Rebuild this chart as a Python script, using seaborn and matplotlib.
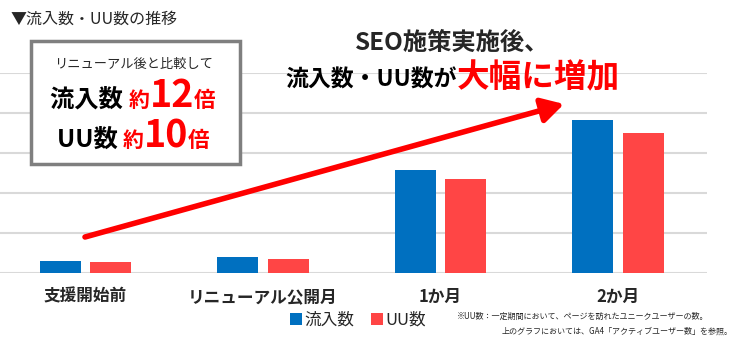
import matplotlib
matplotlib.use("Agg")
import matplotlib.pyplot as plt
import seaborn as sns
import pandas as pd
from matplotlib.patches import Rectangle, FancyArrowPatch

# ---- data ----
categories = ["支援開始前", "リニューアル公開月", "1か月", "2か月"]
inflow = [300, 380, 2570, 3830]      # 流入数
uu = [265, 345, 2350, 3500]          # UU数
series_names = ["流入数", "UU数"]
y_ticks = [0, 1000, 2000, 3000, 4000, 5000]

BLUE = "#0070C0"
RED = "#FF4545"

sns.set_style("white")
plt.rcParams["font.family"] = ["Noto Sans CJK JP", "DejaVu Sans"]

df = pd.DataFrame({
    "期間": categories * 2,
    "値": inflow + uu,
    "指標": [series_names[0]] * len(categories) + [series_names[1]] * len(categories),
})

W, H = 739, 339
fig = plt.figure(figsize=(W / 100, H / 100), dpi=100)
ax = fig.add_axes([0, (H - 272.5) / H, 707 / W, (272.5 - 73.3) / H])

sns.barplot(data=df, x="期間", y="値", hue="指標", palette=[BLUE, RED],
            width=0.568, gap=0.187, saturation=1, linewidth=0, ax=ax)

ax.set_xlim(-0.48, 3.5)
ax.set_ylim(0, 5000)
ax.set_yticks(y_ticks)
ax.set_yticklabels([])
ax.yaxis.grid(True, color="#D9D9D9", lw=1.5)
ax.set_axisbelow(True)
for s in ax.spines.values():
    s.set_visible(False)
ax.axhline(0, color="#D9D9D9", lw=2, zorder=0.5)
ax.set_xlabel("")
ax.set_ylabel("")
ax.tick_params(axis="x", length=0, pad=11)
ax.tick_params(axis="y", length=0)
for lab in ax.get_xticklabels():
    lab.set_fontweight("bold")
    lab.set_fontsize(12)

handles, labels = ax.get_legend_handles_labels()
ax.legend_.remove()
fig.legend(handles, labels, loc="center", bbox_to_anchor=(358 / W, 1 - 320 / H),
           ncol=2, frameon=False, fontsize=12, handlelength=0.7, handleheight=0.7,
           handletextpad=0.15, columnspacing=1.0)

fig.canvas.draw()
renderer = fig.canvas.get_renderer()


def fx(px):
    return px / W


def fy(py):
    return 1 - py / H


def segments(parts, xc, y_base, z=4):
    """parts: list of (text, size, color, weight); centered at xc pixel, baseline y_base pixel"""
    widths = []
    tmp = []
    for t, sz, c, wgt in parts:
        tt = fig.text(0, 0, t, fontsize=sz, color=c, fontweight=wgt, zorder=z)
        bb = tt.get_window_extent(renderer)
        widths.append(bb.width)
        tmp.append(tt)
    total = sum(widths)
    x = xc - total / 2
    for tt, w in zip(tmp, widths):
        tt.set_position((fx(x), fy(y_base)))
        tt.set_va("baseline")
        tt.set_ha("left")
        x += w


# title top-left
fig.text(fx(11), fy(24), "▼流入数・UU数の推移", fontsize=11.5, va="baseline", ha="left")

# box
box = Rectangle((fx(31), fy(164)), fx(240) - fx(31), fy(41) - fy(164),
                transform=fig.transFigure, facecolor="white", edgecolor="#7F7F7F",
                lw=2.5, zorder=3)
fig.add_artist(box)
fig.text(fx(134), fy(68), "リニューアル後と比較して", fontsize=9.5, ha="center",
         va="baseline", zorder=4)
segments([("流入数 ", 17.5, "black", "bold"), ("約", 15, "#FF0000", "bold"),
          ("12", 27, "#FF0000", "bold"), ("倍", 15.5, "#FF0000", "bold")], 133, 107)
segments([("UU数 ", 17.5, "black", "bold"), ("約", 15, "#FF0000", "bold"),
          ("10", 27, "#FF0000", "bold"), ("倍", 15.5, "#FF0000", "bold")], 133, 147)

# heading
fig.text(fx(452), fy(50), "SEO施策実施後、", fontsize=17.5, fontweight="bold",
         ha="center", va="baseline")
segments([("流入数・UU数が", 16.5, "black", "bold"), ("大幅に増加", 23.5, "#FF0000", "bold")],
         453, 87)

# arrow
fig.add_artist(FancyArrowPatch(
    (fx(85), fy(237)), (fx(564), fy(104)), transform=fig.transFigure,
    arrowstyle="-|>,head_length=6,head_width=3.4", color="#FF0000", lw=4.0,
    mutation_scale=2.2, shrinkA=0, shrinkB=0, zorder=5))

# footnote
fig.text(fx(457), fy(319), "※UU数：一定期間において、ページを訪れたユニークユーザーの数。",
         fontsize=5.8, ha="left", va="baseline")
fig.text(fx(502), fy(334), "上のグラフにおいては、GA4「アクティブユーザー数」を参照。",
         fontsize=5.8, ha="left", va="baseline")

fig.savefig("out.png", dpi=100)
